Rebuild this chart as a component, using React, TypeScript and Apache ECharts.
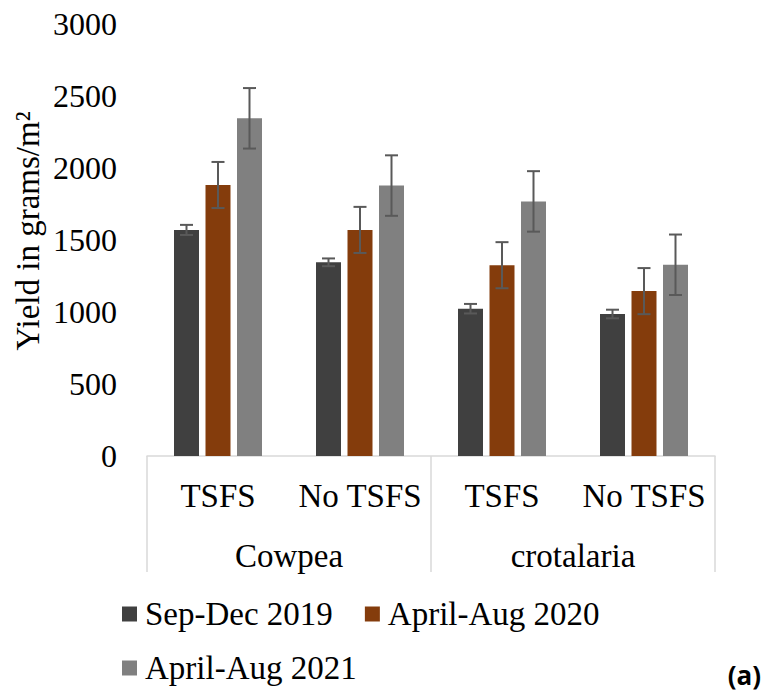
import React, { useEffect, useRef } from "react";
import * as echarts from "echarts";

const categories = ["TSFS", "No TSFS", "TSFS", "No TSFS"];
const groups = ["Cowpea", "crotalaria"];
const seriesNames = ["Sep-Dec 2019", "April-Aug 2020", "April-Aug 2021"];
const sep2019 = [1570, 1345, 1023, 986];
const apr2020 = [1882, 1570, 1325, 1145];
const apr2021 = [2345, 1878, 1768, 1328];
const err2019 = [35, 27, 33, 30];
const err2020 = [160, 160, 160, 160];
const err2021 = [210, 210, 210, 210];
const yTicks = [0, 500, 1000, 1500, 2000, 2500, 3000];

const colors = ["#404040", "#843C0C", "#808080"];
const FONT = "'Liberation Serif', 'Times New Roman', serif";
const BAR_W = 25;
const BAR_GAP = 0.26;

export default function App() {
  const ref = useRef<HTMLDivElement>(null);
  useEffect(() => {
    document.body.style.margin = "0";
    const chart = echarts.init(ref.current!, null, { renderer: "svg" });
    const values = [sep2019, apr2020, apr2021];
    const errs = [err2019, err2020, err2021];

    const barSeries = values.map((v, i) => ({
      name: seriesNames[i],
      type: "bar",
      xAxisIndex: 0,
      yAxisIndex: 0,
      data: v,
      barWidth: BAR_W,
      barGap: BAR_GAP * 100 + "%",
      itemStyle: { color: colors[i] },
      z: 2,
    }));

    const errSeries = values.map((v, i) => ({
      type: "custom",
      xAxisIndex: 0,
      yAxisIndex: 0,
      z: 5,
      silent: true,
      encode: { x: 0, y: [1, 2] },
      data: v.map((val, j) => [j, val - errs[i][j], val + errs[i][j]]),
      renderItem: (params: any, api: any) => {
        const offset = (i - 1) * BAR_W * (1 + BAR_GAP);
        const c = api.value(0);
        const x = api.coord([c, 0])[0] + offset;
        const lo = api.coord([c, api.value(1)])[1];
        const hi = api.coord([c, api.value(2)])[1];
        const style = { stroke: "#595959", lineWidth: 2 };
        const half = 6.5;
        return {
          type: "group",
          children: [
            { type: "line", shape: { x1: x, y1: lo, x2: x, y2: hi }, style },
            { type: "line", shape: { x1: x - half, y1: hi, x2: x + half, y2: hi }, style },
            { type: "line", shape: { x1: x - half, y1: lo, x2: x + half, y2: lo }, style },
          ],
        };
      },
    }));

    const legendText = { fontFamily: FONT, fontSize: 33, color: "#000", padding: [0, 0, 0, 3], lineHeight: 36 };

    chart.setOption({
      animation: false,
      textStyle: { fontFamily: FONT },
      grid: { left: 147, right: 48, top: 24, height: 432 },
      legend: [
        {
          data: [seriesNames[0], seriesNames[1]],
          left: 122,
          top: 596,
          padding: 0,
          itemWidth: 15,
          itemHeight: 15,
          itemGap: 32,
          icon: "rect",
          textStyle: legendText,
        },
        {
          data: [seriesNames[2]],
          left: 122,
          top: 650,
          padding: 0,
          itemWidth: 15,
          itemHeight: 15,
          icon: "rect",
          textStyle: legendText,
        },
      ],
      xAxis: [
        {
          type: "category",
          data: categories,
          position: "bottom",
          axisLine: { show: true, lineStyle: { color: "#D9D9D9", width: 1.5 } },
          axisTick: { show: false },
          axisLabel: { interval: 0, margin: 23, fontFamily: FONT, fontSize: 33, color: "#000" },
        },
        {
          type: "category",
          data: groups,
          position: "bottom",
          axisLine: { show: false },
          axisTick: { show: true, interval: 0, length: 116, lineStyle: { color: "#D9D9D9", width: 1.5 } },
          axisLabel: { interval: 0, margin: 83, fontFamily: FONT, fontSize: 33, color: "#000" },
        },
      ],
      yAxis: {
        type: "value",
        min: 0,
        max: 3000,
        interval: 500,
        axisLine: { show: false },
        axisTick: { show: false },
        splitLine: { show: false },
        axisLabel: {
          margin: 30,
          fontFamily: FONT,
          fontSize: 32,
          color: "#000",
          formatter: (v: number) => (yTicks.includes(v) ? String(v) : ""),
        },
      },
      graphic: [
        {
          type: "text",
          x: 28,
          y: 231,
          rotation: Math.PI / 2,
          style: {
            text: "Yield in grams/m²",
            fontFamily: FONT,
            fontSize: 33,
            fill: "#000",
            textAlign: "center",
            textVerticalAlign: "middle",
          },
        },
        {
          type: "text",
          right: 2,
          top: 662,
          style: {
            text: "(a)",
            fontFamily: "'Open Sans', 'Liberation Sans', sans-serif",
            fontWeight: "bold",
            fontSize: 26,
            fill: "#000",
          },
        },
      ],
      series: [...barSeries, ...errSeries],
    });
    return () => chart.dispose();
  }, []);
  return <div ref={ref} style={{ width: 763, height: 696 }} />;
}
